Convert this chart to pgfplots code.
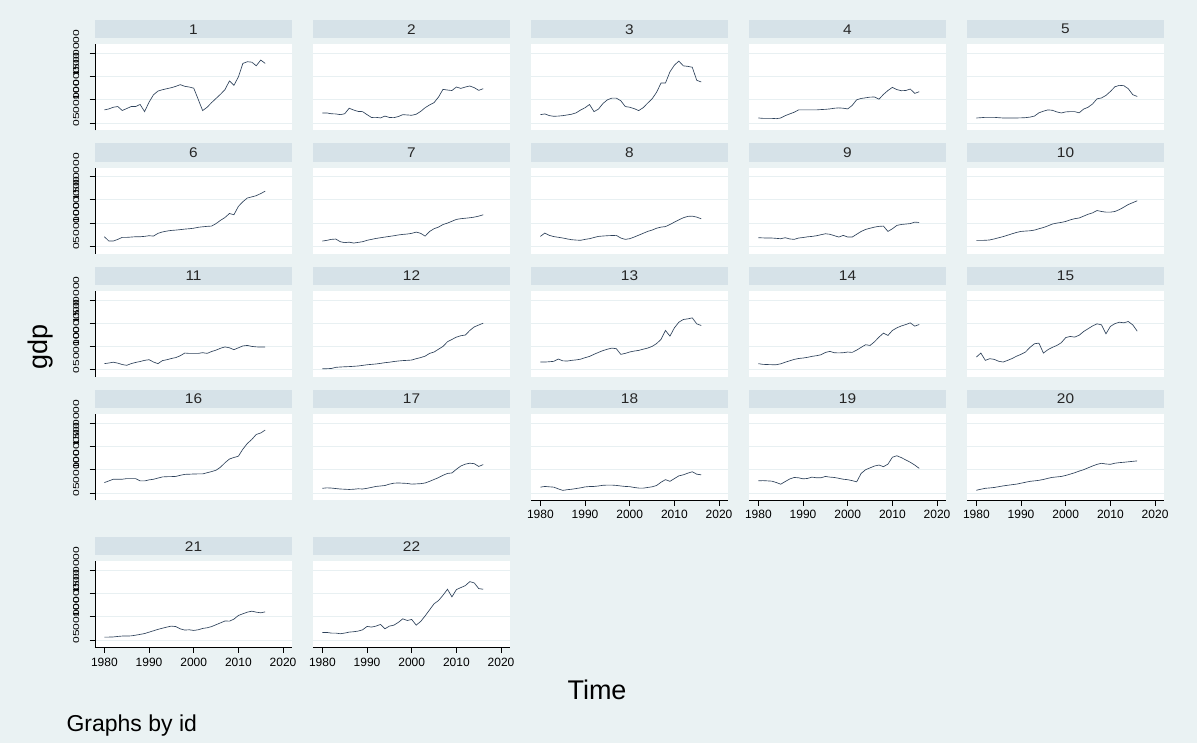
\documentclass[border=0pt]{standalone}
\usepackage{pgfplots}
\usepackage{pgfplotstable}
\pgfplotsset{compat=1.18}
\usepackage{fontspec}
\setmainfont{Liberation Sans}
\usepackage{graphicx}
\definecolor{bgc}{RGB}{234,242,243}
\definecolor{stripc}{RGB}{214,226,232}
\definecolor{gridc}{RGB}{232,240,242}
\definecolor{linec}{RGB}{45,65,90}

\pgfplotstableread{
year p1 p2 p3 p4 p5 p6 p7 p8 p9 p10 p11 p12 p13 p14 p15 p16 p17 p18 p19 p20 p21 p22
1980 283000 217000 181000 109000 109000 207000 114000 214000 186000 129000 129000 21000 164000 129000 271000 223000 100000 125000 261000 58000 64000 164000
1981 304000 217000 196000 101000 115000 114000 129000 286000 182000 129000 143000 21000 164000 114000 357000 259000 110000 140000 265000 80000 64000 164000
1982 340000 200000 160000 101000 123000 114000 150000 236000 179000 130000 160000 25000 170000 110000 200000 295000 105000 132000 260000 100000 67000 150000
1983 355000 196000 145000 101000 123000 150000 157000 210000 179000 138000 140000 50000 179000 107000 236000 295000 95000 125000 254000 108000 78000 150000
1984 270000 181000 150000 94000 123000 193000 100000 195000 172000 160000 110000 57000 229000 107000 221000 295000 85000 88000 225000 118000 86000 136000
1985 312000 200000 159000 109000 115000 193000 80000 180000 164000 185000 93000 62000 190000 125000 180000 309000 80000 55000 188000 135000 86000 150000
1986 355000 319000 174000 159000 109000 200000 90000 160000 186000 210000 130000 66000 185000 160000 164000 309000 75000 70000 245000 152000 90000 171000
1987 355000 280000 190000 196000 109000 207000 71000 143000 160000 240000 155000 72000 200000 190000 200000 309000 80000 80000 300000 165000 105000 179000
1988 400000 250000 220000 232000 109000 207000 85000 135000 150000 271000 175000 79000 210000 220000 240000 259000 90000 95000 333000 178000 122000 193000
1989 246000 246000 280000 283000 109000 215000 100000 130000 179000 300000 200000 92000 225000 240000 290000 259000 85000 110000 326000 190000 140000 220000
1990 450000 180000 330000 283000 112000 229000 130000 150000 190000 321000 214000 105000 257000 250000 330000 281000 100000 130000 304000 210000 170000 293000
1991 609000 120000 399000 283000 116000 221000 150000 165000 205000 329000 164000 114000 285000 265000 380000 295000 120000 138000 312000 230000 200000 279000
1992 688000 123000 246000 283000 128000 280000 170000 190000 214000 335000 129000 122000 330000 286000 480000 320000 140000 140000 341000 250000 230000 300000
1993 717000 110000 300000 283000 150000 310000 185000 214000 228000 350000 195000 135000 371000 300000 557000 345000 150000 150000 326000 260000 255000 336000
1994 739000 150000 420000 290000 220000 329000 200000 222000 250000 379000 214000 150000 410000 320000 571000 350000 160000 165000 326000 272000 279000 243000
1995 761000 120000 500000 295000 255000 343000 214000 229000 271000 405000 240000 160000 440000 370000 357000 352000 190000 169000 355000 290000 300000 300000
1996 790000 116000 536000 304000 283000 350000 228000 233000 260000 440000 260000 175000 464000 393000 429000 356000 210000 169000 341000 315000 290000 320000
1997 826000 140000 536000 319000 275000 360000 245000 236000 230000 480000 300000 186000 450000 364000 480000 380000 215000 162000 333000 335000 240000 380000
1998 790000 181000 480000 326000 240000 371000 257000 179000 200000 500000 357000 195000 329000 360000 520000 400000 210000 150000 315000 345000 215000 457000
1999 775000 174000 355000 319000 217000 379000 265000 150000 236000 515000 350000 200000 350000 365000 579000 403000 205000 140000 295000 355000 221000 421000
2000 750000 167000 340000 304000 240000 390000 280000 165000 200000 536000 350000 207000 380000 379000 690000 408000 190000 135000 285000 377000 207000 443000
2001 510000 190000 310000 380000 246000 410000 307000 200000 200000 570000 350000 236000 400000 371000 714000 410000 195000 118000 265000 405000 221000 321000
2002 268000 250000 268000 500000 246000 421000 280000 240000 260000 595000 365000 260000 414000 420000 700000 410000 200000 105000 239000 435000 250000 400000
2003 340000 330000 330000 529000 220000 430000 220000 280000 320000 610000 350000 290000 440000 480000 740000 435000 215000 103000 420000 470000 264000 520000
2004 440000 390000 428000 543000 300000 436000 320000 321000 364000 650000 390000 350000 464000 536000 820000 460000 250000 118000 500000 500000 290000 650000
2005 530000 440000 520000 558000 340000 490000 380000 350000 390000 690000 420000 379000 500000 521000 880000 489000 290000 132000 540000 540000 330000 780000
2006 620000 560000 660000 560000 410000 560000 414000 390000 414000 720000 460000 440000 560000 600000 940000 555000 330000 160000 580000 580000 370000 850000
2007 720000 725000 860000 514000 520000 621000 470000 414000 430000 771000 490000 500000 650000 700000 986000 650000 380000 230000 600000 615000 410000 964000
2008 906000 710000 862000 616000 540000 707000 500000 425000 436000 750000 470000 600000 843000 786000 964000 730000 420000 287000 565000 638000 407000 1093000
2009 812000 700000 1101000 700000 594000 680000 540000 470000 321000 736000 430000 650000 721000 736000 771000 763000 430000 250000 620000 623000 450000 929000
2010 993000 775000 1246000 768000 680000 860000 580000 521000 379000 736000 470000 700000 900000 843000 930000 791000 510000 309000 768000 616000 529000 1086000
2011 1283000 745000 1333000 720000 780000 960000 595000 570000 450000 750000 510000 730000 1021000 900000 990000 942000 580000 368000 800000 640000 565000 1129000
2012 1319000 775000 1230000 696000 811000 1040000 605000 615000 471000 790000 521000 745000 1079000 940000 1021000 1064000 620000 390000 760000 652000 600000 1171000
2013 1310000 797000 1220000 700000 804000 1064000 615000 645000 480000 843000 500000 843000 1093000 970000 1007000 1151000 640000 426000 710000 660000 621000 1257000
2014 1232000 761000 1200000 732000 739000 1090000 629000 650000 490000 900000 490000 920000 1114000 1007000 1036000 1259000 630000 456000 660000 670000 600000 1229000
2015 1355000 703000 920000 638000 610000 1136000 650000 629000 521000 940000 486000 960000 986000 936000 964000 1290000 570000 404000 600000 680000 586000 1107000
2016 1283000 739000 884000 674000 572000 1186000 679000 593000 514000 980000 486000 1000000 950000 971000 829000 1353000 610000 390000 529000 690000 607000 1093000
}\gdp

\newcommand{\yl}[1]{\scalebox{1.4}[1]{#1}}
\newcommand{\hdr}[1]{\scalebox{1.1}[1]{#1}}

\pgfplotsset{
  panel/.style={
    scale only axis, width=197pt, height=86pt,
    anchor=south west,
    xmin=1977.9, xmax=2022, ymin=-160000, ymax=1690000,
    scaled y ticks=false, scaled x ticks=false,
    axis background/.style={fill=white},
    axis x line*=bottom, axis y line*=left,
    x axis line style={draw=none}, y axis line style={draw=none},
    xtick={1980,1990,2000,2010,2020},
    ytick={0,500000,1000000,1500000},
    xticklabels={}, yticklabels={},
    ymajorgrids, xmajorgrids=false,
    major grid style={gridc, line width=0.8pt},
    x tick style={draw=none}, y tick style={draw=none},
    tick align=outside, major tick length=5.5pt,
    title style={at={(0.5,1)}, anchor=south, yshift=0pt, fill=stripc,
      minimum width=197pt, minimum height=18.5pt, inner sep=0pt, outer sep=0pt,
      font=\fontsize{14}{14}\selectfont, text=black!85},
    no marks,
  },
  lefty/.style={
    y axis line style={draw=black, line width=0.8pt},
    y tick style={draw=black, line width=0.8pt},
    yticklabels={\yl{0},\yl{500000},\yl{1000000},\yl{1500000}},
    yticklabel style={rotate=90, anchor=south, inner sep=0pt,
      font=\fontsize{8.6}{8.6}\selectfont, text=black},
    yticklabel shift=10pt,
  },
  bottomx/.style={
    x axis line style={draw=black, line width=0.8pt},
    x tick style={draw=black, line width=0.8pt},
    xticklabels={1980,1990,2000,2010,2020},
    xticklabel style={anchor=north, inner sep=0pt,
      font=\fontsize{12}{12}\selectfont},
    xticklabel shift=4.5pt,
  },
}

\newcommand{\panel}[4]{%
\begin{axis}[panel, at={(#1pt,#2pt)}, title={\hdr{#3}}, #4]
\addplot[linec, line width=0.65pt] table[x=year, y=p#3] {\gdp};
\end{axis}}

\begin{document}
\begin{tikzpicture}
\fill[bgc] (0,0) rectangle (1197pt,743pt);
% row 1
\panel{95}{612.5}{1}{lefty}
\panel{313}{612.5}{2}{}
\panel{531}{612.5}{3}{}
\panel{749}{612.5}{4}{}
\panel{967}{612.5}{5}{}
% row 2
\panel{95}{489.2}{6}{lefty}
\panel{313}{489.2}{7}{}
\panel{531}{489.2}{8}{}
\panel{749}{489.2}{9}{}
\panel{967}{489.2}{10}{}
% row 3
\panel{95}{365.9}{11}{lefty}
\panel{313}{365.9}{12}{}
\panel{531}{365.9}{13}{}
\panel{749}{365.9}{14}{}
\panel{967}{365.9}{15}{}
% row 4
\panel{95}{242.6}{16}{lefty}
\panel{313}{242.6}{17}{}
\panel{531}{242.6}{18}{bottomx}
\panel{749}{242.6}{19}{bottomx}
\panel{967}{242.6}{20}{bottomx}
% row 5
\panel{95}{95.5}{21}{lefty,bottomx}
\panel{313}{95.5}{22}{bottomx}
% outer labels
\node[rotate=90, font=\fontsize{27}{27}\selectfont] at (41pt,396pt) {gdp};
\node[anchor=base, font=\fontsize{27}{27}\selectfont] at (597pt,43pt) {Time};
\node[anchor=base west, font=\fontsize{23}{23}\selectfont] at (63pt,11.5pt) {Graphs by id};
\end{tikzpicture}
\end{document}
